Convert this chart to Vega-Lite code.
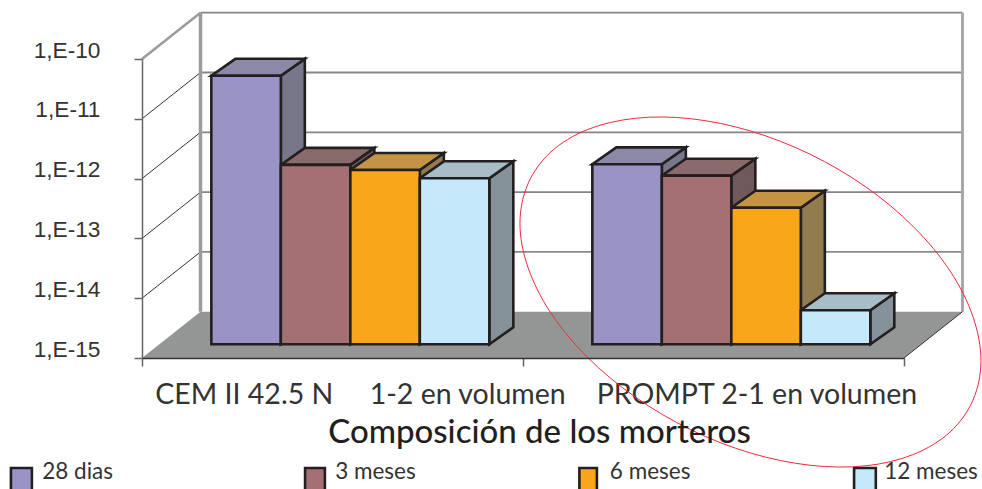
{
"$schema":"https://vega.github.io/schema/vega-lite/v6.json",
"width":762,"height":299,
"padding":{"left":142,"top":59,"right":78,"bottom":131},
"autosize":{"type":"none"},
"background":"white",
"config":{"view":{"stroke":null},"axis":{"grid":false}},
"datasets":{
"barras":[
{"composicion":"CEM II 42.5 N","periodo":"28 dias","exponente":-10.51},
{"composicion":"CEM II 42.5 N","periodo":"3 meses","exponente":-12.0},
{"composicion":"CEM II 42.5 N","periodo":"6 meses","exponente":-12.085},
{"composicion":"CEM II 42.5 N","periodo":"12 meses","exponente":-12.224},
{"composicion":"PROMPT 2-1","periodo":"28 dias","exponente":-11.99},
{"composicion":"PROMPT 2-1","periodo":"3 meses","exponente":-12.18},
{"composicion":"PROMPT 2-1","periodo":"6 meses","exponente":-12.716},
{"composicion":"PROMPT 2-1","periodo":"12 meses","exponente":-14.431}
],
"rejilla":[{"v":-14},{"v":-13},{"v":-12},{"v":-11},{"v":-10}],
"leyenda":[{"periodo":"28 dias"},{"periodo":"3 meses"},{"periodo":"6 meses"},{"periodo":"12 meses"}],
"elipse":[
{"o":1,"a":2.202,"b":-15.045},{"o":2,"a":2.181,"b":-15.704},{"o":3,"a":2.121,"b":-16.237},{"o":4,"a":2.025,"b":-16.612},{"o":5,"a":1.9,"b":-16.803},{"o":6,"a":1.754,"b":-16.794},{"o":7,"a":1.597,"b":-16.589},{"o":8,"a":1.44,"b":-16.199},{"o":9,"a":1.295,"b":-15.654},{"o":10,"a":1.169,"b":-14.987},{"o":11,"a":1.073,"b":-14.247},{"o":12,"a":1.013,"b":-13.483},{"o":13,"a":0.992,"b":-12.748},{"o":14,"a":1.013,"b":-12.089},{"o":15,"a":1.073,"b":-11.555},{"o":16,"a":1.169,"b":-11.181},{"o":17,"a":1.295,"b":-10.991},{"o":18,"a":1.44,"b":-10.998},{"o":19,"a":1.597,"b":-11.204},{"o":20,"a":1.754,"b":-11.594},{"o":21,"a":1.9,"b":-12.14},{"o":22,"a":2.025,"b":-12.806},{"o":23,"a":2.121,"b":-13.545},{"o":24,"a":2.181,"b":-14.309}
]
},
"resolve":{"scale":{"fill":"independent"}},
"layer":[
{"data":{"values":[{"p":0},{"p":1}]},
 "transform":[{"calculate":"-15+datum.p*0.774","as":"py"},{"calculate":"datum.p*0.1535","as":"px0"},{"calculate":"2+datum.p*0.1535","as":"px1"}],
 "mark":{"type":"area","orient":"horizontal","fill":"#949696"},
 "encoding":{
  "y":{"field":"py","type":"quantitative","stack":null,"scale":{"domain":[-15,-10],"nice":false,"zero":false},
   "axis":{"values":[-15,-14,-13,-12,-11,-10],"labelExpr":"'1,E' + datum.value","labelFont":"Liberation Sans","labelFontSize":22.7,"labelColor":"#333333","labelPadding":34,"labelOffset":-9,"tickSize":8,"tickColor":"#666666","tickWidth":1.5,"domainColor":"#666666","domainWidth":1.5,"title":null,"zindex":1,"labelOverlap":false,"labelBound":false,"labelFlush":false}},
  "x":{"field":"px0","type":"quantitative","stack":null,"scale":{"domain":[0,2],"nice":false,"zero":false},
   "axis":{"values":[0,1,2],"labels":false,"tickSize":8,"tickColor":"#666666","tickWidth":1.5,"domainColor":"#333333","domainWidth":1.5,"zindex":1,
    "title":"Composición de los morteros","titleFont":"Lato","titleFontSize":33,"titleFontWeight":500,"titleColor":"#231F20","titleX":397,"titleY":74,"titleBaseline":"middle","titleAlign":"center"}},
  "x2":{"field":"px1"}
 }},
{"data":{"name":"rejilla"},
 "transform":[{"calculate":"datum.v+0.774","as":"vf"}],
 "mark":{"type":"rule"},
 "encoding":{
  "x":{"datum":0,"type":"quantitative","scale":{"domain":[0,2],"nice":false,"zero":false}},
  "x2":{"datum":0.1535},
  "y":{"field":"v","type":"quantitative","scale":{"domain":[-15,-10],"nice":false,"zero":false}},
  "y2":{"field":"vf"},
  "color":{"condition":{"test":"datum.v==-10","value":"#9b9b9b"},"value":"#333333"},
  "strokeWidth":{"condition":{"test":"datum.v==-10","value":2.5},"value":1}
 }},
{"data":{"name":"rejilla"},
 "transform":[{"calculate":"datum.v+0.774","as":"vf"}],
 "mark":{"type":"rule"},
 "encoding":{
  "x":{"datum":0.1535,"type":"quantitative","scale":{"domain":[0,2],"nice":false,"zero":false}},
  "x2":{"datum":2.1535},
  "y":{"field":"vf","type":"quantitative","scale":{"domain":[-15,-10],"nice":false,"zero":false}},
  "color":{"condition":{"test":"datum.v==-14","value":"#333333"},"value":"#858585"},
  "strokeWidth":{"condition":{"test":"datum.v==-14","value":1},"value":1.8}
 }},
{"data":{"values":[{"borde":"fondo"}]},
 "mark":{"type":"rule","color":"#9b9b9b","strokeWidth":3.5},
 "encoding":{
  "x":{"datum":0.1535,"type":"quantitative","scale":{"domain":[0,2],"nice":false,"zero":false}},
  "y":{"datum":-14.226,"type":"quantitative","scale":{"domain":[-15,-10],"nice":false,"zero":false}},
  "y2":{"datum":-9.226}
 }},
{"data":{"values":[{"borde":"derecho"}]},
 "mark":{"type":"rule","color":"#a8a8a8","strokeWidth":3},
 "encoding":{
  "x":{"datum":2.1535,"type":"quantitative","scale":{"domain":[0,2],"nice":false,"zero":false}},
  "y":{"datum":-14.226,"type":"quantitative","scale":{"domain":[-15,-10],"nice":false,"zero":false}},
  "y2":{"datum":-9.226}
 }},
{"data":{"values":[{"borde":"suelo"}]},
 "mark":{"type":"rule","color":"#333333","strokeWidth":1},
 "encoding":{
  "x":{"datum":2,"type":"quantitative","scale":{"domain":[0,2],"nice":false,"zero":false}},
  "x2":{"datum":2.1535},
  "y":{"datum":-15,"type":"quantitative","scale":{"domain":[-15,-10],"nice":false,"zero":false}},
  "y2":{"datum":-14.226}
 }},
{"data":{"name":"barras"},
 "transform":[
  {"calculate":"(indexof(datum.composicion,'PROMPT')>=0?1:0)+0.182+0.1824*indexof(['28 dias','3 meses','6 meses','12 meses'],datum.periodo)","as":"izq"},
  {"calculate":"[0,1]","as":"p"},{"flatten":["p"]},
  {"calculate":"datum.izq+0.1824+datum.p*0.063","as":"sx"},
  {"calculate":"datum.exponente+0.229+datum.p*0.284","as":"sy"},
  {"calculate":"-14.771+datum.p*0.284","as":"sy2"},
  {"calculate":"datum.composicion+datum.periodo","as":"id"}],
 "mark":{"type":"area","stroke":"#231F20","strokeWidth":2.6,"strokeJoin":"miter"},
 "encoding":{
  "x":{"field":"sx","type":"quantitative","scale":{"domain":[0,2],"nice":false,"zero":false}},
  "y":{"field":"sy","type":"quantitative","stack":null,"scale":{"domain":[-15,-10],"nice":false,"zero":false}},
  "y2":{"field":"sy2"},
  "detail":{"field":"id"},
  "fill":{"field":"periodo","type":"nominal","legend":null,"scale":{"domain":["28 dias","3 meses","6 meses","12 meses"],"range":["#777789","#70595A","#937B50","#85929A"]}}
 }},
{"data":{"name":"barras"},
 "transform":[
  {"calculate":"(indexof(datum.composicion,'PROMPT')>=0?1:0)+0.182+0.1824*indexof(['28 dias','3 meses','6 meses','12 meses'],datum.periodo)","as":"izq"},
  {"calculate":"[0,1]","as":"p"},{"flatten":["p"]},
  {"calculate":"datum.izq+datum.p*0.063","as":"tx"},
  {"calculate":"datum.izq+0.1824+datum.p*0.063","as":"tx2"},
  {"calculate":"datum.exponente+0.229+datum.p*0.284","as":"ty"},
  {"calculate":"datum.composicion+datum.periodo","as":"id"}],
 "mark":{"type":"area","orient":"horizontal","stroke":"#231F20","strokeWidth":2.6,"strokeJoin":"miter"},
 "encoding":{
  "y":{"field":"ty","type":"quantitative","stack":null,"scale":{"domain":[-15,-10],"nice":false,"zero":false}},
  "x":{"field":"tx","type":"quantitative","stack":null,"scale":{"domain":[0,2],"nice":false,"zero":false}},
  "x2":{"field":"tx2"},
  "detail":{"field":"id"},
  "fill":{"field":"periodo","type":"nominal","legend":null,"scale":{"domain":["28 dias","3 meses","6 meses","12 meses"],"range":["#8B88A8","#8A6A6A","#C49343","#A7BDC8"]}}
 }},
{"data":{"name":"barras"},
 "transform":[
  {"calculate":"(indexof(datum.composicion,'PROMPT')>=0?1:0)+0.182+0.1824*indexof(['28 dias','3 meses','6 meses','12 meses'],datum.periodo)","as":"izq"},
  {"calculate":"datum.izq+0.1824","as":"der"},
  {"calculate":"datum.exponente+0.229","as":"cima"},
  {"calculate":"-14.771","as":"base"}],
 "mark":{"type":"rect","stroke":"#231F20","strokeWidth":2.6},
 "encoding":{
  "x":{"field":"izq","type":"quantitative","scale":{"domain":[0,2],"nice":false,"zero":false}},
  "x2":{"field":"der"},
  "y":{"field":"cima","type":"quantitative","scale":{"domain":[-15,-10],"nice":false,"zero":false}},
  "y2":{"field":"base"},
  "fill":{"field":"periodo","type":"nominal","legend":null,"scale":{"domain":["28 dias","3 meses","6 meses","12 meses"],"range":["#9A94C6","#A47074","#FAA61A","#C5E8FB"]}}
 }},
{"data":{"values":[{"etiqueta":"CEM II 42.5 N\u00a0\u00a0\u00a0\u00a0\u00a01-2 en volumen"},{"etiqueta":"PROMPT 2-1 en volumen"}]},
 "transform":[{"calculate":"indexof(datum.etiqueta,'PROMPT')>=0?1.614:0.5735","as":"cx"}],
 "mark":{"type":"text","font":"Lato","fontSize":28.5,"color":"#333333","baseline":"middle","align":"center"},
 "encoding":{
  "x":{"field":"cx","type":"quantitative","scale":{"domain":[0,2],"nice":false,"zero":false}},
  "y":{"datum":-15.62,"type":"quantitative","scale":{"domain":[-15,-10],"nice":false,"zero":false}},
  "text":{"field":"etiqueta"}
 }},
{"data":{"name":"leyenda"},
 "transform":[
  {"calculate":"{'28 dias':-0.344,'3 meses':0.428,'6 meses':1.148,'12 meses':1.869}[datum.periodo]","as":"c0"},
  {"calculate":"{'28 dias':-0.289,'3 meses':0.48,'6 meses':1.194,'12 meses':1.926}[datum.periodo]","as":"c1"}],
 "mark":{"type":"rect","stroke":"#231F20","strokeWidth":2.6},
 "encoding":{
  "x":{"field":"c0","type":"quantitative","scale":{"domain":[0,2],"nice":false,"zero":false}},
  "x2":{"field":"c1"},
  "y":{"datum":-16.84,"type":"quantitative","scale":{"domain":[-15,-10],"nice":false,"zero":false}},
  "y2":{"datum":-17.3},
  "fill":{"field":"periodo","type":"nominal","legend":null,"scale":{"domain":["28 dias","3 meses","6 meses","12 meses"],"range":["#9A94C6","#A47074","#FAA61A","#C5E8FB"]}}
 }},
{"data":{"name":"leyenda"},
 "transform":[{"calculate":"{'28 dias':-0.262,'3 meses':0.507,'6 meses':1.228,'12 meses':1.948}[datum.periodo]","as":"t0"}],
 "mark":{"type":"text","font":"Lato","fontSize":22.5,"color":"#333333","baseline":"middle","align":"left"},
 "encoding":{
  "x":{"field":"t0","type":"quantitative","scale":{"domain":[0,2],"nice":false,"zero":false}},
  "y":{"datum":-16.906,"type":"quantitative","scale":{"domain":[-15,-10],"nice":false,"zero":false}},
  "text":{"field":"periodo"}
 }},
{"data":{"name":"elipse"},
 "mark":{"type":"line","interpolate":"cardinal-closed","color":"#EE2A3A","strokeWidth":1},
 "encoding":{
  "x":{"field":"a","type":"quantitative","scale":{"domain":[0,2],"nice":false,"zero":false}},
  "y":{"field":"b","type":"quantitative","scale":{"domain":[-15,-10],"nice":false,"zero":false}},
  "order":{"field":"o"}
 }}
]
}
